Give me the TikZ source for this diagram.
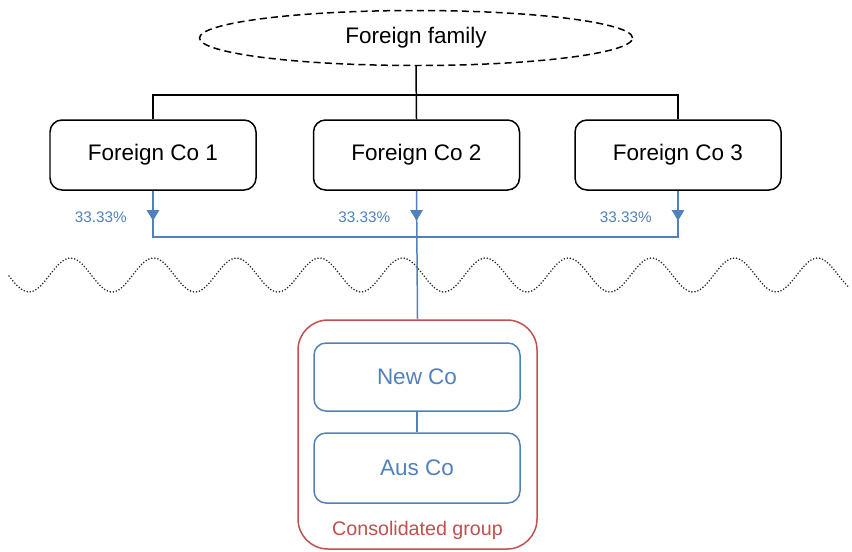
\documentclass[tikz,border=0pt]{standalone}
\usepackage{fontspec}
\setmainfont{Liberation Sans}
\usetikzlibrary{shapes.geometric,arrows.meta}
\definecolor{grpblue}{HTML}{4F81BD}
\definecolor{grpred}{HTML}{C0504D}
\tikzset{
	cobox/.style={draw, line width=0.85pt, rounded corners=0.24cm, minimum width=4.12cm,
		minimum height=1.4cm, font=\fontsize{12.8}{15}\selectfont},
	ausbox/.style={cobox, draw=grpblue, text=grpblue},
	share/.style={grpblue, line width=0.85pt},
	pct/.style={text=grpblue, anchor=east, font=\fontsize{8.7}{10}\selectfont}
}
\begin{document}
\begin{tikzpicture}
	\useasboundingbox (0,0) rectangle (17.04,-11.02);

	\node [ellipse, draw, dashed, dash pattern=on 4pt off 2.4pt, line width=0.85pt,
		minimum width=8.66cm, minimum height=1.1cm, font=\fontsize{12.8}{15}\selectfont]
		(family) at (8.32,-0.76) {Foreign family};

	\node [cobox] (fco1) at (3.06,-3.1) {Foreign Co 1};
	\node [cobox] (fco2) at (8.33,-3.1) {Foreign Co 2};
	\node [cobox] (fco3) at (13.56,-3.1) {Foreign Co 3};

	\coordinate (split) at (8.33,-1.9);
	\coordinate (hub) at (8.33,-4.74);

	\draw [line width=0.85pt] (family.south) -- (fco2.north);
	\draw [line width=0.85pt] (fco1.north) |- (split) -| (fco3.north);

	% shareholdings
	\foreach \co in {fco1,fco2,fco3} {
		\draw [share, -{Triangle[width=7pt,length=6pt]}] (\co.south) -- ++(0,-0.6);
		\node [pct] (\co pct) at ([xshift=-0.4cm,yshift=-0.52cm]\co.south) {33.33\%};
	}
	\draw [share] (fco1.south) -- (fco1.south |- hub) -- (fco3.south |- hub) -- (fco3.south);

	% border
	\draw [line width=1pt, dash pattern=on 0pt off 1.75pt, line cap=round, black!85]
		plot [domain=0.18:17.0, samples=300] (\x, {-5.5 + 0.34*cos(360*(\x - 1.41)/1.66)});

	\node [draw=grpred, line width=0.85pt, rounded corners=0.6cm, minimum width=4.78cm,
		minimum height=4.58cm] (group) at (8.35,-8.69) {};
	\node [ausbox, minimum height=1.36cm] (newco) at (8.34,-7.54) {New Co};
	\node [ausbox] (ausco) at (8.34,-9.36) {Aus Co};
	\node [text=grpred, font=\fontsize{11.2}{13}\selectfont] (grplabel) at (8.35,-10.6) {Consolidated group};

	\draw [share] (fco2.south) -- (group.north);
	\draw [share] (newco) -- (ausco);
\end{tikzpicture}
\end{document}
